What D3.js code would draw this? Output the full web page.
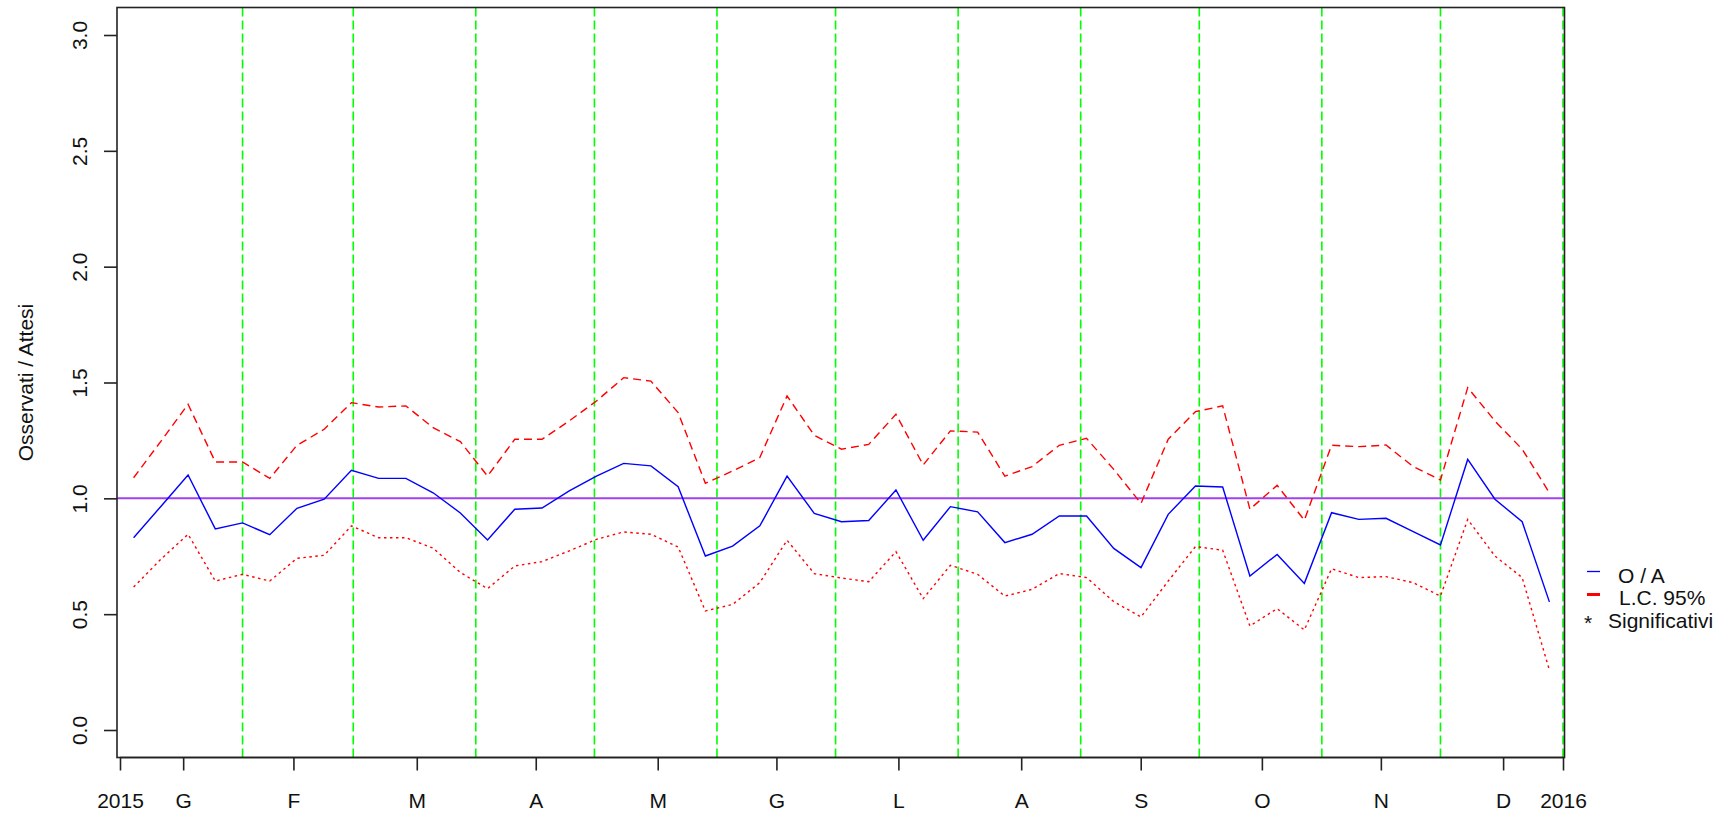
<!DOCTYPE html>
<html>
<head>
<meta charset="utf-8">
<script src="https://cdn.jsdelivr.net/npm/d3@7"></script>
<style>
  html, body { margin: 0; padding: 0; background: #fff; }
  svg { display: block; }
  text { font-family: "Liberation Sans", Arial, sans-serif; fill: #111; }
</style>
</head>
<body>
<svg id="chart" width="1728" height="818"></svg>
<script>
// ---- data (weekly, 2015) ----
const weeks = d3.range(1, 54);
const oa = [0.830,0.965,1.101,0.868,0.894,0.843,0.957,0.996,1.121,1.086,
            1.086,1.024,0.937,0.820,0.953,0.958,1.032,1.096,1.151,1.140,
            1.050,0.751,0.794,0.881,1.096,0.935,0.899,0.904,1.036,0.819,
            0.964,0.942,0.809,0.845,0.924,0.924,0.784,0.701,0.931,1.053,
            1.049,0.665,0.758,0.633,0.938,0.909,0.914,0.856,0.799,1.168,
            0.996,0.899,0.553];
const upper = [1.089,1.246,1.406,1.157,1.157,1.086,1.229,1.298,1.413,1.394,
               1.399,1.305,1.245,1.096,1.255,1.255,1.334,1.420,1.521,1.506,
               1.370,1.065,1.118,1.176,1.442,1.272,1.212,1.233,1.363,1.144,
               1.291,1.286,1.096,1.137,1.229,1.259,1.125,0.978,1.255,1.374,
               1.399,0.953,1.056,0.906,1.229,1.223,1.230,1.137,1.079,1.478,
               1.334,1.212,1.024];
const lower = [0.617,0.737,0.845,0.643,0.672,0.643,0.741,0.754,0.881,0.830,
               0.830,0.785,0.680,0.610,0.708,0.727,0.773,0.823,0.855,0.845,
               0.790,0.514,0.542,0.636,0.819,0.675,0.656,0.640,0.770,0.567,
               0.711,0.672,0.578,0.607,0.675,0.658,0.554,0.488,0.643,0.792,
               0.776,0.449,0.524,0.432,0.696,0.658,0.662,0.636,0.578,0.909,
               0.751,0.658,0.259];
// month boundaries (day of year of month start) -> vertical green lines
const monthStartDays = [31,59,90,120,151,181,212,243,273,304,334,365];
// x-axis tick labels and their positions (in week units)
const xTickLabels = ["2015","G","F","M","A","M","G","L","A","S","O","N","D","2016"];
const xTickPos    = [0.5,2.82,6.87,11.40,15.77,20.25,24.61,29.09,33.60,37.99,42.44,46.81,51.30,53.5];
const yTicks = [0, 0.5, 1.0, 1.5, 2.0, 2.5, 3.0];
const refValue = 1.0;
const legendLabels = ["O / A", "L.C. 95%", "Significativi"];

// ---- layout ----
const svg = d3.select("#chart");
const box = {left: 117, right: 1564.5, top: 7.5, bottom: 757.5};
const x = d3.scaleLinear().domain([0.5, 53.5]).range([120, 1563]);
const y = d3.scaleLinear().domain([0, 3]).range([730, 35]);
const dayToWeek = d => 0.5 + d * 53 / 365;
const FS = 21;

svg.append("rect").attr("width",1728).attr("height",818).attr("fill","#fff");

// green month lines
svg.append("g").selectAll("line").data(monthStartDays).join("line")
  .attr("x1", d => x(dayToWeek(d))).attr("x2", d => x(dayToWeek(d)))
  .attr("y1", box.top).attr("y2", box.bottom)
  .attr("stroke", "#00ff00").attr("stroke-width", 1.6)
  .attr("stroke-dasharray", "9,4");

// reference line
svg.append("line")
  .attr("x1", box.left).attr("x2", box.right)
  .attr("y1", y(refValue)).attr("y2", y(refValue))
  .attr("stroke", "#a040f0").attr("stroke-width", 2);

const line = arr => d3.line().x((d,i) => x(weeks[i])).y(d => y(d))(arr);

svg.append("path").attr("d", line(upper)).attr("fill","none")
  .attr("stroke","#ff0000").attr("stroke-width",1.4).attr("stroke-dasharray","8,5");
svg.append("path").attr("d", line(lower)).attr("fill","none")
  .attr("stroke","#ff0000").attr("stroke-width",1.4).attr("stroke-dasharray","2.5,3.5");
svg.append("path").attr("d", line(oa)).attr("fill","none")
  .attr("stroke","#0000ff").attr("stroke-width",1.4);

// box
svg.append("rect")
  .attr("x", box.left).attr("y", box.top)
  .attr("width", box.right - box.left).attr("height", box.bottom - box.top)
  .attr("fill","none").attr("stroke","#222").attr("stroke-width",1.6);

// y axis
const yAxis = d3.axisLeft(y).tickValues(yTicks).tickFormat(d3.format(".1f"))
  .tickSize(13).tickPadding(0);
const gy = svg.append("g").attr("transform", `translate(${box.left},0)`).call(yAxis);
gy.select(".domain").remove();
gy.selectAll(".tick line").attr("stroke","#222").attr("stroke-width",1.6);
gy.selectAll(".tick text")
  .attr("font-size", FS).attr("font-family", '"Liberation Sans", Arial, sans-serif')
  .attr("fill","#111")
  .attr("text-anchor","middle").attr("dy", null)
  .attr("x", null)
  .attr("transform", "translate(-30,0) rotate(-90)")
  .attr("y", 0);

// x axis
const xAxis = d3.axisBottom(x).tickValues(xTickPos)
  .tickFormat((d,i) => xTickLabels[i]).tickSize(13).tickPadding(0);
const gx = svg.append("g").attr("transform", `translate(0,${box.bottom})`).call(xAxis);
gx.select(".domain").attr("stroke","#222").attr("stroke-width",1.6)
  .attr("d", `M${x(0.5)},0H${x(53.5)}`);
gx.selectAll(".tick line").attr("stroke","#222").attr("stroke-width",1.6);
gx.selectAll(".tick text")
  .attr("font-size", FS).attr("font-family", '"Liberation Sans", Arial, sans-serif')
  .attr("fill","#111").attr("dy", null).attr("y", 50);

// y label
svg.append("text")
  .attr("transform", `translate(33,${(box.top+box.bottom)/2}) rotate(-90)`)
  .attr("text-anchor","middle").attr("font-size", FS)
  .text("Osservati / Attesi");

// legend
const lg = svg.append("g");
lg.append("line").attr("x1",1587).attr("x2",1600).attr("y1",571.5).attr("y2",571.5)
  .attr("stroke","#0000ff").attr("stroke-width",1.3);
lg.append("line").attr("x1",1587).attr("x2",1600).attr("y1",594.5).attr("y2",594.5)
  .attr("stroke","#ff0000").attr("stroke-width",3);
lg.append("text").attr("x",1588).attr("y",630).attr("text-anchor","middle")
  .attr("font-size",FS).text("*");
const legX = [1618, 1619, 1608];
const legY = [582.5, 605, 627.5];
lg.selectAll("text.lab").data(legendLabels).join("text").attr("class","lab")
  .attr("x", (d,i) => legX[i]).attr("y", (d,i) => legY[i])
  .attr("font-size", FS).text(d => d);
</script>
</body>
</html>
